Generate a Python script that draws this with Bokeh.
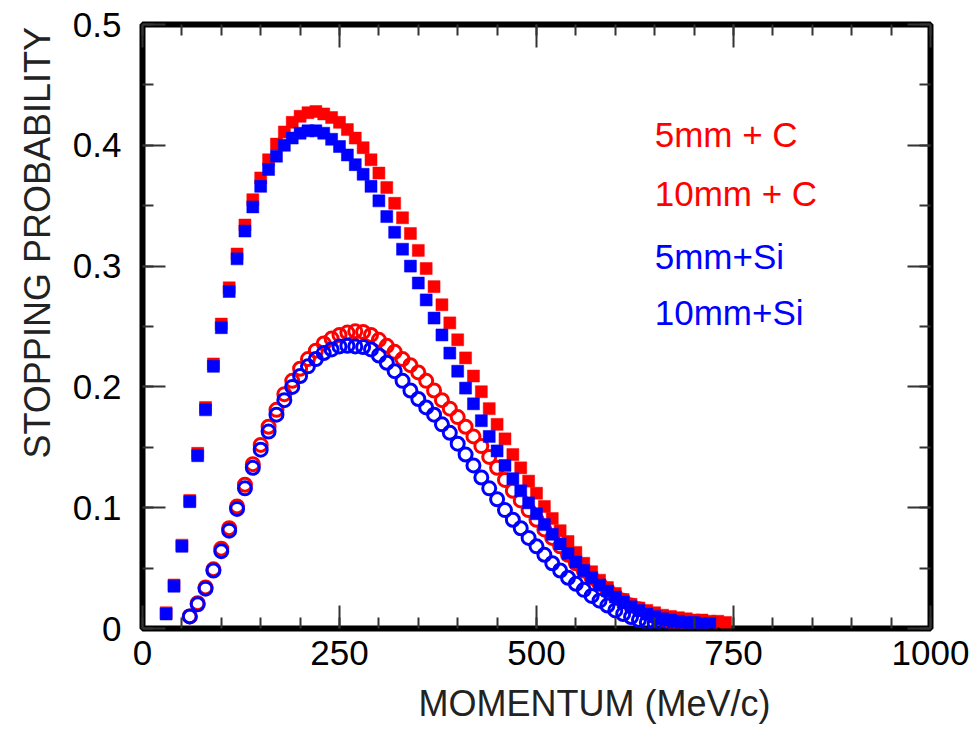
from bokeh.plotting import figure
from bokeh.models import Range1d, SingleIntervalTicker, LinearAxis, NumeralTickFormatter, Label, Title
from bokeh.embed import file_html
from bokeh.resources import INLINE

# ---------------- data ----------------
x_sq_red = list(range(30, 750, 10))
y_sq_red = [0.013, 0.036, 0.069, 0.106, 0.145, 0.183, 0.219, 0.252, 0.282, 0.310,
            0.334, 0.355, 0.373, 0.388, 0.401, 0.411, 0.419, 0.424, 0.427, 0.428,
            0.426, 0.423, 0.419, 0.413, 0.406, 0.398, 0.388, 0.377, 0.365, 0.352,
            0.340, 0.327, 0.313, 0.298, 0.283, 0.268, 0.253, 0.239, 0.224, 0.209,
            0.196, 0.182, 0.169, 0.157, 0.144, 0.133, 0.122, 0.112, 0.101, 0.091,
            0.081, 0.072, 0.063, 0.054, 0.047, 0.040, 0.034, 0.029, 0.024, 0.020,
            0.017, 0.015, 0.013, 0.011, 0.010, 0.009, 0.008, 0.007, 0.007, 0.006,
            0.006, 0.005]

x_sq_blue = list(range(30, 730, 10))
y_sq_blue = [0.012, 0.035, 0.068, 0.105, 0.143, 0.181, 0.217, 0.249, 0.279, 0.306,
             0.329, 0.349, 0.366, 0.380, 0.391, 0.400, 0.406, 0.410, 0.412, 0.412,
             0.410, 0.405, 0.399, 0.392, 0.384, 0.376, 0.366, 0.354, 0.341, 0.328,
             0.314, 0.300, 0.286, 0.272, 0.257, 0.243, 0.228, 0.213, 0.199, 0.186,
             0.172, 0.159, 0.147, 0.135, 0.124, 0.114, 0.104, 0.095, 0.086, 0.078,
             0.070, 0.062, 0.055, 0.048, 0.042, 0.036, 0.031, 0.026, 0.022, 0.018,
             0.015, 0.012, 0.010, 0.008, 0.007, 0.006, 0.005, 0.005, 0.004, 0.004]

x_ci_red = list(range(60, 730, 10))
y_ci_red = [0.010, 0.021, 0.034, 0.049, 0.066, 0.083, 0.101, 0.119, 0.136, 0.152,
            0.167, 0.181, 0.194, 0.205, 0.215, 0.223, 0.230, 0.236, 0.240, 0.243,
            0.245, 0.246, 0.2455, 0.243, 0.239, 0.234, 0.229, 0.223, 0.218, 0.212,
            0.205, 0.197, 0.189, 0.182, 0.175, 0.167, 0.159, 0.151, 0.142, 0.133,
            0.123, 0.114, 0.106, 0.098, 0.090, 0.082, 0.075, 0.068, 0.061, 0.054,
            0.048, 0.042, 0.037, 0.032, 0.027, 0.023, 0.019, 0.016, 0.013, 0.010,
            0.008, 0.006, 0.005, 0.004, 0.003, 0.002, 0.002]

x_ci_blue = list(range(60, 710, 10))
y_ci_blue = [0.010, 0.020, 0.033, 0.048, 0.064, 0.081, 0.099, 0.116, 0.133, 0.148,
             0.163, 0.177, 0.189, 0.200, 0.209, 0.217, 0.223, 0.228, 0.231, 0.2335,
             0.234, 0.2335, 0.233, 0.231, 0.226, 0.220, 0.213, 0.205, 0.197, 0.190,
             0.183, 0.177, 0.169, 0.162, 0.153, 0.144, 0.135, 0.125, 0.116, 0.107,
             0.098, 0.090, 0.083, 0.075, 0.068, 0.061, 0.054, 0.048, 0.042, 0.037,
             0.032, 0.027, 0.023, 0.019, 0.015, 0.012, 0.0095, 0.007, 0.005, 0.004,
             0.003, 0.002, 0.0015, 0.001, 0.001]

legend_texts = ["5mm + C", "10mm + C", "5mm+Si", "10mm+Si"]
legend_colors = ["#ff0000", "#ff0000", "#0000ff", "#0000ff"]
legend_x = 650
legend_y = [0.409, 0.360, 0.308, 0.262]

x_title = "MOMENTUM (MeV/c)"
y_title = "STOPPING PROBABILITY"

FONT = "Liberation Sans"

p = figure(width=971, height=736, output_backend="svg", toolbar_location=None,
           x_range=Range1d(0, 1000), y_range=Range1d(0, 0.5),
           x_axis_location=None, y_axis_location=None,
           min_border_left=142, min_border_right=41, min_border_top=24, min_border_bottom=99)
p.grid.visible = False
p.background_fill_color = "white"
p.border_fill_color = "white"
p.outline_line_color = "black"
p.outline_line_width = 6

bottom = LinearAxis(ticker=SingleIntervalTicker(interval=250, num_minor_ticks=5))
left = LinearAxis(ticker=SingleIntervalTicker(interval=0.1, num_minor_ticks=2),
                  formatter=NumeralTickFormatter(format="0.[0]"))
top = LinearAxis(ticker=SingleIntervalTicker(interval=250, num_minor_ticks=5))
right = LinearAxis(ticker=SingleIntervalTicker(interval=0.1, num_minor_ticks=2))
p.add_layout(bottom, "below")
p.add_layout(left, "left")
p.add_layout(top, "above")
p.add_layout(right, "right")

for ax in [bottom, left, top, right]:
    ax.axis_line_color = None
    ax.major_tick_in = 23
    ax.major_tick_out = 0
    ax.minor_tick_in = 11
    ax.minor_tick_out = 0
    ax.major_tick_line_color = "#333333"
    ax.minor_tick_line_color = "#333333"
    ax.major_tick_line_width = 2
    ax.minor_tick_line_width = 2

for ax in [top, right]:
    ax.major_label_text_font_size = "0px"
    ax.major_label_standoff = 0
    ax.major_label_text_color = None

for ax in [bottom, left]:
    ax.major_label_text_font = FONT
    ax.major_label_text_font_size = "35px"
    ax.major_label_text_color = "black"

bottom.major_label_standoff = 12
left.major_label_standoff = 21

# axis titles (off-centre in the original), as side titles
p.add_layout(Title(text=x_title, align="left", offset=276, standoff=26,
                   text_font=FONT, text_font_size="36px", text_font_style="normal",
                   text_color="#222222"), "below")
p.add_layout(Title(text=y_title, align="left", offset=170, standoff=23,
                   text_font=FONT, text_font_size="36px", text_font_style="normal",
                   text_color="#222222"), "left")

p.scatter(x_ci_red, y_ci_red, marker="circle", size=13, fill_color=None,
          line_color="#ff0000", line_width=3)
p.scatter(x_ci_blue, y_ci_blue, marker="circle", size=13, fill_color=None,
          line_color="#0000ff", line_width=3)
p.scatter(x_sq_red, y_sq_red, marker="square", size=12, fill_color="#ff0000",
          line_color="#ff0000", line_width=0.5)
p.scatter(x_sq_blue, y_sq_blue, marker="square", size=12, fill_color="#0000ff",
          line_color="#0000ff", line_width=0.5)

for t, c, yy in zip(legend_texts, legend_colors, legend_y):
    p.add_layout(Label(x=legend_x, y=yy, text=t, text_color=c, text_font=FONT,
                       text_font_size="35px", text_baseline="middle"))

open("out.html", "w").write(file_html(p, INLINE))
